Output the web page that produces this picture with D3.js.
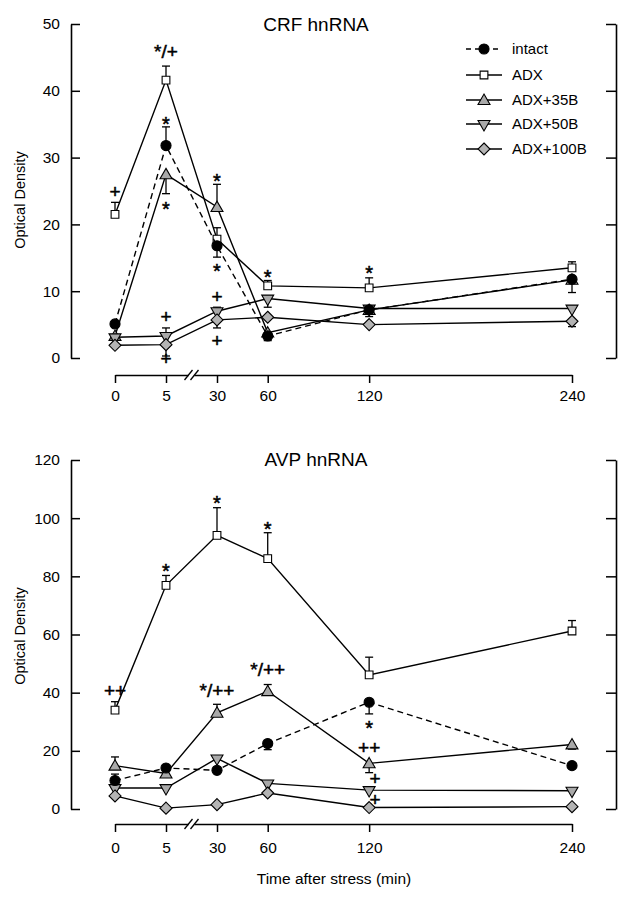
<!DOCTYPE html>
<html>
<head>
<meta charset="utf-8">
<script src="https://cdn.jsdelivr.net/npm/d3@7"></script>
<style>
  html, body { margin: 0; padding: 0; background: #fff; }
  svg { display: block; font-family: "Liberation Sans", Arial, Helvetica, sans-serif; }
  text { fill: #000; }
</style>
</head>
<body>
<svg id="chart" width="633" height="899"></svg>
<script>
// ---------------- DATA ----------------
const times = [0, 5, 30, 60, 120, 240];
const timeTickLabels = ["0", "5", "30", "60", "120", "240"];
const seriesNames = ["intact", "ADX", "ADX+35B", "ADX+50B", "ADX+100B"];

// CRF hnRNA (top panel)
const crfIntact = [5.1, 31.8, 16.8, 3.3, 7.2, 11.8];
const crfAdx    = [21.5, 41.6, 17.8, 10.8, 10.5, 13.5];
const crf35B    = [3.3, 27.5, 22.6, 3.8, 7.2, 11.7];
const crf50B    = [3.1, 3.3, 7.0, 8.9, 7.4, 7.4];
const crf100B   = [1.9, 2.0, 5.7, 6.1, 5.0, 5.5];
// signed SEM (+ drawn upward, - drawn downward, 0 none)
const crfIntactErr = [0, 2.8, -1.7, -0.7, -1.0, -2.0];
const crfAdxErr    = [1.8, 2.1, 1.7, 0.8, 1.5, 0.9];
const crf35BErr    = [0, -2.9, 3.4, 0, 0, 0];
const crf50BErr    = [0, 1.2, 0.6, -1.3, 0, 0];
const crf100BErr   = [0, -1.7, -1.2, 0, 0, -0.8];
const crfTicks = [0, 10, 20, 30, 40, 50];

// AVP hnRNA (bottom panel)
const avpIntact = [9.8, 14.1, 13.3, 22.5, 36.7, 14.9];
const avpAdx    = [34.0, 76.9, 94.1, 86.1, 46.1, 61.2];
const avp35B    = [14.9, 12.2, 33.1, 40.5, 15.7, 22.2];
const avp50B    = [7.2, 7.2, 17.4, 8.8, 6.5, 6.3];
const avp100B   = [4.5, 0.3, 1.5, 5.5, 0.5, 0.8];
const avpIntactErr = [2.2, 0, 0, -2.1, -4.0, 0];
const avpAdxErr    = [2.9, 3.4, 9.5, 8.9, 6.1, 3.6];
const avp35BErr    = [3.0, 0, 2.9, 2.3, -3.2, -1.6];
const avp50BErr    = [0, 0, 0, 0, 0, 0];
const avp100BErr   = [0, 0, 0, 0, 0, 0];
const avpTicks = [0, 20, 40, 60, 80, 100, 120];

// significance annotations: [time, value at symbol centre, text, x-offset]
const crfMarks = [
  [0, 25.0, "+", 0], [5, 45.9, "*/+", 0], [5, 36.0, "*", 0], [5, 23.2, "*", 0],
  [5, 6.2, "+", 0], [5, 0.0, "+", 0], [30, 27.5, "*", 0], [30, 13.9, "*", 0],
  [30, 9.2, "+", 0], [30, 2.6, "+", 0], [60, 13.1, "*", 0], [120, 13.6, "*", 0]
];
const avpMarks = [
  [0, 40.9, "++", 0], [5, 83.9, "*", 0], [30, 107.4, "*", 0], [60, 98.5, "*", 0],
  [30, 40.9, "*/++", 0], [60, 48.0, "*/++", 0], [120, 30.0, "*", 0],
  [120, 21.2, "++", 0], [120, 10.6, "+", 6], [120, 3.3, "+", 6]
];

// ---------------- DRAWING ----------------
const svg = d3.select("#chart");
const x = d3.scaleLinear().domain([0, 5, 30, 240]).range([115, 166, 217, 572]);
const leftX = 71, rightX = 616;

const styles = {
  "intact":   { sym: "circle",   fill: "#000",    dash: "6,4" },
  "ADX":      { sym: "square",   fill: "#fff",    dash: null },
  "ADX+35B":  { sym: "triUp",    fill: "#a9a9a9", dash: null },
  "ADX+50B":  { sym: "triDown",  fill: "#a9a9a9", dash: null },
  "ADX+100B": { sym: "diamond",  fill: "#b4b4b4", dash: null }
};

function symbolPath(type) {
  switch (type) {
    case "circle":  return d3.symbol(d3.symbolCircle, 80)();
    case "square":  return d3.symbol(d3.symbolSquare, 60)();
    case "triUp":   return d3.symbol(d3.symbolTriangle, 62)();
    case "triDown": return d3.symbol(d3.symbolTriangle, 62)();
    case "diamond": return "M0,-6L6,0L0,6L-6,0Z";
  }
}
function symbolTransform(type, px, py) {
  if (type === "triDown") return `translate(${px},${py}) rotate(180)`;
  if (type === "triUp") return `translate(${px},${py + 1})`;
  return `translate(${px},${py})`;
}

function drawPanel(cfg) {
  const y = d3.scaleLinear().domain(cfg.domain).range([cfg.yBottom, cfg.yTop]);
  const g = svg.append("g");

  // left axis
  const la = g.append("g").attr("transform", `translate(${leftX},0)`)
    .call(d3.axisLeft(y).tickValues(cfg.ticks).tickSizeInner(-9).tickSizeOuter(0).tickPadding(11));
  // right axis
  const ra = g.append("g").attr("transform", `translate(${rightX},0)`)
    .call(d3.axisRight(y).tickValues(cfg.ticks).tickSizeInner(-10).tickSizeOuter(0).tickFormat(""));
  // x axis
  const xa = g.append("g").attr("transform", `translate(0,${cfg.xAxisY})`)
    .call(d3.axisBottom(x).tickValues(times).tickFormat((d, i) => timeTickLabels[i])
      .tickSizeInner(8).tickSizeOuter(0).tickPadding(cfg.xPad));
  [la, ra, xa].forEach(a => {
    a.select(".domain").attr("stroke", "#000").attr("stroke-width", 1.6);
    a.selectAll(".tick line").attr("stroke", "#000").attr("stroke-width", 1.5);
    a.selectAll(".tick text").attr("font-size", 15.5).attr("fill", "#000")
      .attr("font-family", '"Liberation Sans", Arial, sans-serif');
  });
  // axis break
  const bx = (x(5) + x(30)) / 2;
  xa.append("rect").attr("x", bx - 3).attr("y", -3).attr("width", 6).attr("height", 6).attr("fill", "#fff");
  [-3, 3].forEach(o => xa.append("line")
    .attr("x1", bx + o - 4).attr("y1", 5).attr("x2", bx + o + 4).attr("y2", -5)
    .attr("stroke", "#000").attr("stroke-width", 1.3));

  // title
  g.append("text").attr("x", 316).attr("y", cfg.titleY).attr("text-anchor", "middle")
    .attr("font-size", 19).text(cfg.title);
  // y label
  g.append("text").attr("transform", `translate(25,${cfg.ylabelY}) rotate(-90)`)
    .attr("text-anchor", "middle").attr("font-size", 14.5).text("Optical Density");

  // series
  const line = d3.line().x((d, i) => x(times[i])).y(d => y(d));
  const order = [2, 3, 4, 1, 0];
  order.forEach(si => {
    const name = seriesNames[si];
    const st = styles[name];
    const vals = cfg.values[si], errs = cfg.errs[si];
    g.append("path").attr("d", line(vals)).attr("fill", "none")
      .attr("stroke", "#000").attr("stroke-width", 1.4)
      .attr("stroke-dasharray", st.dash);
    // error bars
    vals.forEach((v, i) => {
      const e = errs[i];
      if (!e) return;
      const px = x(times[i]);
      g.append("line").attr("x1", px).attr("x2", px).attr("y1", y(v)).attr("y2", y(v + e))
        .attr("stroke", "#000").attr("stroke-width", 1.3);
      g.append("line").attr("x1", px - 4).attr("x2", px + 4).attr("y1", y(v + e)).attr("y2", y(v + e))
        .attr("stroke", "#000").attr("stroke-width", 1.3);
    });
    vals.forEach((v, i) => {
      g.append("path").attr("d", symbolPath(st.sym))
        .attr("transform", symbolTransform(st.sym, x(times[i]), y(v)))
        .attr("fill", st.fill).attr("stroke", "#000").attr("stroke-width", 1.1);
    });
  });

  // annotations
  cfg.marks.forEach(m => {
    const [t, v, txt, dx] = m;
    g.append("text").attr("x", x(t) + dx).attr("y", y(v))
      .attr("dy", txt === "*" ? "0.66em" : "0.36em")
      .attr("text-anchor", "middle").attr("font-size", txt === "*" ? 20 : 19)
      .attr("stroke", "#000").attr("stroke-width", 0.5)
      .text(txt);
  });
  return g;
}

drawPanel({
  title: "CRF hnRNA", titleY: 31, ylabelY: 200,
  domain: [0, 50], yBottom: 358, yTop: 24, ticks: crfTicks, xAxisY: 375, xPad: 7,
  values: [crfIntact, crfAdx, crf35B, crf50B, crf100B],
  errs: [crfIntactErr, crfAdxErr, crf35BErr, crf50BErr, crf100BErr],
  marks: crfMarks
});
drawPanel({
  title: "AVP hnRNA", titleY: 466, ylabelY: 636,
  domain: [0, 120], yBottom: 809, yTop: 460, ticks: avpTicks, xAxisY: 824, xPad: 10,
  values: [avpIntact, avpAdx, avp35B, avp50B, avp100B],
  errs: [avpIntactErr, avpAdxErr, avp35BErr, avp50BErr, avp100BErr],
  marks: avpMarks
});

// x-axis title
svg.append("text").attr("x", 334).attr("y", 884).attr("text-anchor", "middle")
  .attr("font-size", 15.5).text("Time after stress (min)");

// legend
const legend = svg.append("g");
const legendRowsY = [49, 75, 100, 124, 149];
seriesNames.forEach((name, i) => {
  const st = styles[name];
  const ly = legendRowsY[i];
  legend.append("line").attr("x1", 466).attr("x2", 502).attr("y1", ly).attr("y2", ly)
    .attr("stroke", "#000").attr("stroke-width", 1.4).attr("stroke-dasharray", st.dash ? "5,4" : null);
  legend.append("path").attr("d", symbolPath(st.sym))
    .attr("transform", symbolTransform(st.sym, 484, ly))
    .attr("fill", st.fill).attr("stroke", "#000").attr("stroke-width", 1.1);
  legend.append("text").attr("x", 512).attr("y", ly).attr("dy", "0.36em")
    .attr("font-size", 15).text(name);
});
</script>
</body>
</html>
